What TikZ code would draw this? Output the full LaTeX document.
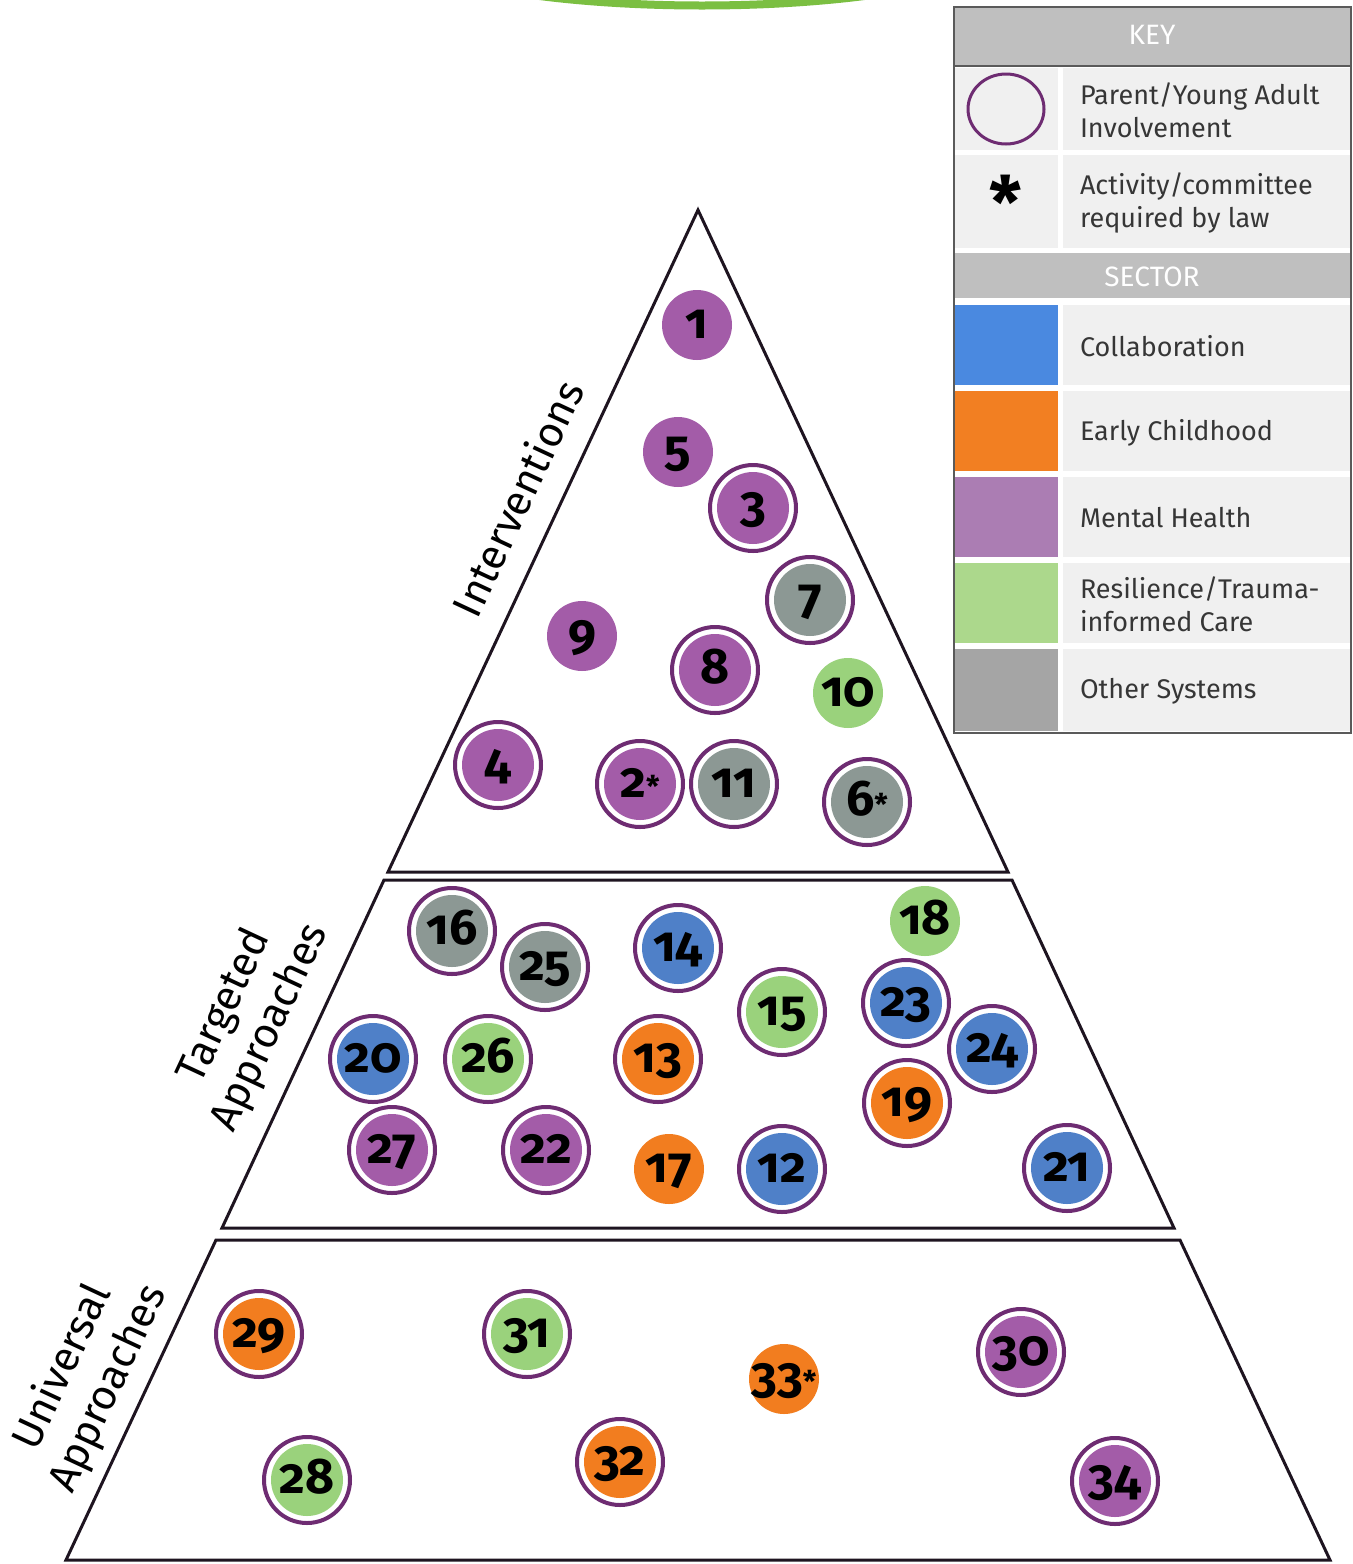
\documentclass[tikz,border=0pt]{standalone}
\usepackage{fontspec}
\setmainfont{Fira Sans}
\newfontfamily\numfont{Fira Sans}[Numbers=OldStyle]
\definecolor{cPurple}{HTML}{A35CA8}
\definecolor{cGray}{HTML}{8C9894}
\definecolor{cBlue}{HTML}{4F80C8}
\definecolor{cGreen}{HTML}{9AD27C}
\definecolor{cOrange}{HTML}{F27D1F}
\definecolor{sPurple}{HTML}{AB7DB3}
\definecolor{sGray}{HTML}{A5A5A5}
\definecolor{sBlue}{HTML}{4A89E0}
\definecolor{sGreen}{HTML}{ACD88C}
\definecolor{sOrange}{HTML}{F27F22}
\definecolor{ringC}{HTML}{6E2C72}
\definecolor{keyHead}{HTML}{BFBFBF}
\definecolor{keyCell}{HTML}{F0F0F0}
\definecolor{keyLine}{HTML}{5A5A5A}
\definecolor{keyText}{HTML}{363636}
\definecolor{topGreen}{HTML}{7BBF42}
\definecolor{pyrLine}{HTML}{1E1420}
\newcommand\req{{\fontsize{15pt}{15pt}\selectfont *}}
\begin{document}
\begin{tikzpicture}[x={(0.5pt,0)}, y={(0,-0.5pt)},
  every node/.style={inner sep=0pt, outer sep=0pt},
  num/.style={circle, font=\numfont\bfseries\fontsize{25pt}{25pt}\selectfont, text height=13pt, text depth=0pt, text=black},
  pdisc/.style={num, minimum size=35pt, fill=#1},
  rdisc/.style={num, minimum size=43pt, draw=ringC, line width=2pt, fill=white,
     path picture={\fill[#1] (path picture bounding box.center) circle (18pt);}},
  pyr/.style={draw=pyrLine, line width=1.5pt, line join=miter},
  lab/.style={font=\fontsize{21pt}{25pt}\selectfont, text=black, rotate=65, align=center},
  keyhdr/.style={font=\fontsize{14pt}{16pt}\selectfont, text=white},
  keytxt/.style={font=\fontsize{13.5pt}{16.5pt}\selectfont, text=keyText, anchor=west, align=left},
]
\useasboundingbox (0,0) rectangle (1353,1564);
\clip (0,0) rectangle (1353,1564);
\fill[white] (0,0) rectangle (1353,1564);

% green arc at the top
\draw[topGreen, line width=4pt] (702,-60) ellipse [x radius=313, y radius=65.5];

% pyramid sections
\draw[pyr] (698,210) -- (388,872) -- (1008,872) -- cycle;
\draw[pyr] (384,880) -- (1012,880) -- (1174,1228) -- (222,1228) -- cycle;
\draw[pyr] (216,1240) -- (1180,1240) -- (1330,1560) -- (66,1560) -- cycle;

% section labels
\node[lab] (lint) at (517,498) {Interventions};
\node[lab] (ltar) at (248,1017) {Targeted\\Approaches};
\node[lab] (luni) at (86,1378) {Universal\\Approaches};

% Interventions
\node[pdisc=cPurple] (n1) at (697,325) {1};
\node[pdisc=cPurple] (n5) at (678,452) {5};
\node[rdisc=cPurple] (n3) at (753,508) {3};
\node[rdisc=cGray] (n7) at (810,600) {7};
\node[pdisc=cPurple] (n9) at (582,636) {9};
\node[rdisc=cPurple] (n8) at (715,670) {8};
\node[pdisc=cGreen] (n10) at (848,693) {10};
\node[rdisc=cPurple] (n4) at (498,765) {4};
\node[rdisc=cPurple] (n2) at (640,784) {2\req};
\node[rdisc=cGray] (n11) at (734,784) {11};
\node[rdisc=cGray] (n6) at (867,802) {6\req};

% Targeted approaches
\node[rdisc=cGray] (n16) at (452,931) {16};
\node[rdisc=cGray] (n25) at (545,967) {25};
\node[rdisc=cBlue] (n14) at (678,948) {14};
\node[pdisc=cGreen] (n18) at (925,921) {18};
\node[rdisc=cGreen] (n15) at (782,1012) {15};
\node[rdisc=cBlue] (n23) at (906,1003) {23};
\node[rdisc=cBlue] (n24) at (992,1049) {24};
\node[rdisc=cBlue] (n20) at (373,1059) {20};
\node[rdisc=cGreen] (n26) at (488,1059) {26};
\node[rdisc=cOrange] (n13) at (658,1059) {13};
\node[rdisc=cOrange] (n19) at (907,1103) {19};
\node[rdisc=cPurple] (n27) at (392,1150) {27};
\node[rdisc=cPurple] (n22) at (546,1150) {22};
\node[pdisc=cOrange] (n17) at (669,1169) {17};
\node[rdisc=cBlue] (n12) at (782,1169) {12};
\node[rdisc=cBlue] (n21) at (1067,1168) {21};

% Universal approaches
\node[rdisc=cOrange] (n29) at (259,1334) {29};
\node[rdisc=cGreen] (n31) at (527,1334) {31};
\node[pdisc=cOrange] (n33) at (784,1379) {33\req};
\node[rdisc=cPurple] (n30) at (1021,1352) {30};
\node[rdisc=cGreen] (n28) at (307,1480) {28};
\node[rdisc=cOrange] (n32) at (620,1462) {32};
\node[rdisc=cPurple] (n34) at (1115,1481) {34};

% KEY table
\fill[keyHead] (954,7) rectangle (1351,65);
\draw[keyLine, line width=1pt] (954,66) -- (1351,66);
\fill[keyCell] (954,68) rectangle (1058,150);
\fill[keyCell] (1063,68) rectangle (1351,150);
\fill[keyCell] (954,155) rectangle (1058,248);
\fill[keyCell] (1063,155) rectangle (1351,248);
\fill[keyHead] (954,253) rectangle (1351,298);
\fill[sBlue]   (954,305) rectangle (1058,385);
\fill[keyCell] (1063,305) rectangle (1351,385);
\fill[sOrange] (954,391) rectangle (1058,471);
\fill[keyCell] (1063,391) rectangle (1351,471);
\fill[sPurple] (954,477) rectangle (1058,557);
\fill[keyCell] (1063,477) rectangle (1351,557);
\fill[sGreen]  (954,563) rectangle (1058,643);
\fill[keyCell] (1063,563) rectangle (1351,643);
\fill[sGray]   (954,649) rectangle (1058,731);
\fill[keyCell] (1063,649) rectangle (1351,731);
\draw[keyLine, line width=1.25pt] (954,7) rectangle (1351,733);

\node[keyhdr] (khead) at (1152,35) {KEY};
\node[keyhdr] (shead) at (1152,277) {SECTOR};
\draw[ringC, line width=1.5pt] (1006,109) ellipse [x radius=38, y radius=35];
\node[font=\bfseries\fontsize{36pt}{36pt}\selectfont, yshift=-18pt] (kast) at (1006,192) {\smash{*}};
\node[keytxt] (kt1) at (1080,110) {Parent/Young Adult\\Involvement};
\node[keytxt] (kt2) at (1080,203) {Activity/committee\\required by law};
\node[keytxt] (ks1) at (1080,346) {Collaboration};
\node[keytxt] (ks2) at (1080,433) {Early Childhood};
\node[keytxt] (ks3) at (1080,518) {Mental Health};
\node[keytxt] (ks4) at (1080,604) {Resilience/Trauma-\\informed Care};
\node[keytxt] (ks5) at (1080,691) {Other Systems};
\end{tikzpicture}
\end{document}
